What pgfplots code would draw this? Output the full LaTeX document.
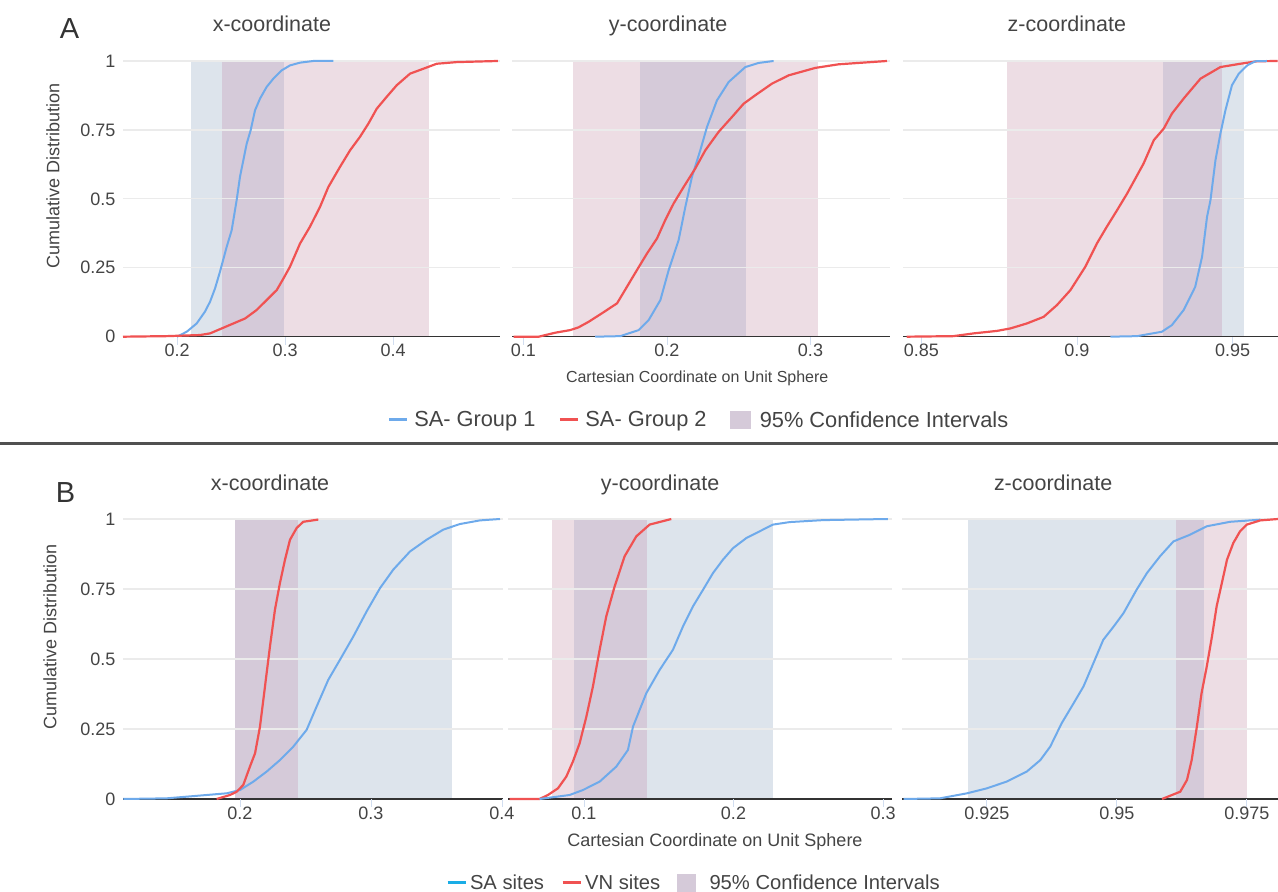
\documentclass[border=0pt]{standalone}
\usepackage{fontspec}
\setmainfont{Liberation Sans}
\usepackage{pgfplots}
\pgfplotsset{compat=1.18}
\definecolor{blueline}{HTML}{6EAAEB}
\definecolor{redline}{HTML}{F05252}
\definecolor{cyanline}{HTML}{1AADE6}
\definecolor{bandblue}{HTML}{DDE4EC}
\definecolor{bandpink}{HTML}{EDDDE4}
\definecolor{bandpurple}{HTML}{D5CAD9}
\definecolor{gridgray}{HTML}{EBEBEB}
\definecolor{basegray}{HTML}{333333}
\definecolor{textgray}{HTML}{444444}
\definecolor{tickblue}{HTML}{D2DEF0}
\definecolor{sepgray}{HTML}{505050}
\pgfplotsset{
  sub/.style={
    scale only axis, anchor=south west, clip=false, set layers,
    ymin=0, ymax=1,
    ytick={0.25,0.5,0.75,1},
    extra y ticks={0},
    extra y tick style={grid style={draw=basegray, line width=1.5pt}, ytick style={draw=none}},
    ymajorgrids,
    grid style={draw=gridgray, line width=1.2pt},
    axis line style={draw=none},
    ytick style={draw=none},
    tick align=inside, major tick length=8pt,
    xtick style={draw=tickblue, line width=0.8pt, yshift=-8pt},
    xtick pos=bottom, ytick pos=left,
    /pgf/number format/assume math mode=true,
    ticklabel style={font=\fontsize{18}{20}\selectfont, text=textgray},
    xticklabel style={yshift=-4pt},
    yticklabel style={xshift=-4pt},
    title style={font=\fontsize{21.5}{24}\selectfont, text=textgray, anchor=base, yshift=-6pt},
    yticklabels={}, extra y tick labels={},
    legend image code/.code={\draw[##1] (0pt,0pt) -- (18pt,0pt);},
  },
  first/.style={
    yticklabels={0.25,0.5,0.75,1}, extra y tick labels={0},
    ylabel={Cumulative Distribution},
    ylabel style={font=\fontsize{18}{20}\selectfont, text=textgray, anchor=center},
  },
  blue/.style={blueline, line width=2pt},
  red/.style={redline, line width=2.2pt},
  band/.style={on layer=axis background, draw=none, fill=#1, forget plot},
}
\begin{document}
\begin{tikzpicture}
% ================= PANEL A =================
\begin{axis}[sub, first, at={(123pt,555.3pt)}, width=377pt, height=275.7pt,
  xmin=0.15, xmax=0.499, xtick={0.2,0.3,0.4}, xticklabels={0.2,0.3,0.4},
  title={x-coordinate}, title style={at={(axis description cs:0.395,1.1063)}},
  ylabel style={at={(axis description cs:-0.186,0.583)}}]
\addplot[band=bandblue] coordinates {(0.213,1) (0.299,1)} \closedcycle;
\addplot[band=bandpink] coordinates {(0.2417,1) (0.433,1)} \closedcycle;
\addplot[band=bandpurple] coordinates {(0.2417,1) (0.299,1)} \closedcycle;
\addplot[blue] coordinates {(0.2,0)(0.209,0.018)(0.2182,0.048)(0.2259,0.091)(0.2306,0.127)(0.2352,0.175)(0.2398,0.236)(0.246,0.326)(0.2506,0.386)(0.2552,0.495)(0.2583,0.580)(0.2645,0.700)(0.2682,0.749)(0.2722,0.821)(0.2769,0.864)(0.283,0.906)(0.2892,0.936)(0.2969,0.966)(0.3046,0.984)(0.3139,0.994)(0.3262,1.0)(0.3448,1.0)};
\addplot[red] coordinates {(0.15,0)(0.1904,0.002)(0.2213,0.006)(0.2306,0.012)(0.2414,0.030)(0.2522,0.048)(0.263,0.066)(0.2738,0.097)(0.283,0.133)(0.2923,0.169)(0.2985,0.211)(0.3046,0.254)(0.3139,0.338)(0.3231,0.399)(0.3324,0.471)(0.3401,0.543)(0.3509,0.616)(0.3602,0.676)(0.3694,0.725)(0.3772,0.773)(0.3849,0.827)(0.3941,0.870)(0.4034,0.912)(0.4157,0.954)(0.4281,0.972)(0.4404,0.990)(0.459,0.996)(0.497,1)};
\node[font=\fontsize{29}{30}\selectfont, text=basegray] at (rel axis cs:-0.142,1.118) {A};
\end{axis}
\begin{axis}[sub, at={(512pt,555.3pt)}, width=378pt, height=275.7pt,
  xmin=0.092, xmax=0.3554, xtick={0.1,0.2,0.3}, xticklabels={0.1,0.2,0.3},
  title={y-coordinate}, title style={at={(axis description cs:0.413,1.1063)}},
  xlabel={Cartesian Coordinate on Unit Sphere},
  xlabel style={font=\fontsize{16}{18}\selectfont, text=textgray, at={(axis description cs:0.49,-0.150)}, anchor=center},
  legend columns=3,
  legend style={at={(0.494,-0.302)}, anchor=center, draw=none, fill=none,
    font=\fontsize{21.8}{24}\selectfont, text=textgray,
    /tikz/every odd column/.append style={column sep=4pt},
    /tikz/every even column/.append style={column sep=21pt}}]
\addlegendimage{blueline, line width=3pt}
\addlegendentry{SA- Group 1}
\addlegendimage{redline, line width=3pt}
\addlegendentry{SA- Group 2}
\addlegendimage{legend image code/.code={\fill[bandpurple] (0pt,-8.5pt) rectangle (20pt,8.5pt); \path[draw=none, fill=none] (0pt,0pt) -- (24pt,0pt);}}
\addlegendentry{95\% Confidence Intervals}
\addplot[band=bandpink] coordinates {(0.1345,1) (0.305,1)} \closedcycle;
\addplot[band=bandpurple] coordinates {(0.1812,1) (0.255,1)} \closedcycle;
\addplot[blue, forget plot] coordinates {(0.150,0)(0.1675,0.002)(0.1733,0.012)(0.1803,0.024)(0.1872,0.060)(0.1954,0.133)(0.2012,0.242)(0.2081,0.350)(0.2128,0.471)(0.2174,0.580)(0.2232,0.676)(0.2279,0.761)(0.2348,0.857)(0.243,0.924)(0.2546,0.978)(0.2639,0.993)(0.2743,1)};
\addplot[red, forget plot] coordinates {(0.0931,0)(0.1106,0)(0.1222,0.0145)(0.1326,0.024)(0.1384,0.034)(0.1454,0.054)(0.1547,0.085)(0.1652,0.121)(0.1721,0.181)(0.1791,0.242)(0.1861,0.302)(0.193,0.356)(0.1988,0.423)(0.2046,0.483)(0.2116,0.543)(0.2197,0.610)(0.2267,0.676)(0.236,0.743)(0.2453,0.797)(0.2534,0.845)(0.2616,0.876)(0.2732,0.918)(0.2848,0.948)(0.3034,0.975)(0.3196,0.988)(0.3533,1)};
\end{axis}
\begin{axis}[sub, at={(903pt,555.3pt)}, width=375pt, height=275.7pt,
  xmin=0.8441, xmax=0.9646, xtick={0.85,0.9,0.95}, xticklabels={0.85,0.9,0.95},
  title={z-coordinate}, title style={at={(axis description cs:0.437,1.1063)}}]
\addplot[band=bandpink] coordinates {(0.8775,1) (0.9466,1)} \closedcycle;
\addplot[band=bandblue] coordinates {(0.9277,1) (0.9537,1)} \closedcycle;
\addplot[band=bandpurple] coordinates {(0.9277,1) (0.9466,1)} \closedcycle;
\addplot[red] coordinates {(0.8453,0)(0.8603,0.002)(0.8668,0.012)(0.8743,0.021)(0.8786,0.030)(0.8839,0.048)(0.8893,0.072)(0.8936,0.115)(0.8979,0.169)(0.9027,0.254)(0.9064,0.338)(0.9096,0.399)(0.9129,0.459)(0.9161,0.519)(0.9182,0.562)(0.9214,0.628)(0.9247,0.713)(0.9279,0.755)(0.9305,0.809)(0.9343,0.864)(0.9397,0.936)(0.9461,0.978)(0.9525,0.990)(0.9579,0.999)(0.9645,1)};
\addplot[blue] coordinates {(0.9107,0)(0.9193,0.002)(0.9273,0.018)(0.9305,0.042)(0.9343,0.097)(0.938,0.181)(0.9402,0.290)(0.9418,0.435)(0.9429,0.495)(0.9445,0.640)(0.9461,0.737)(0.9477,0.821)(0.9498,0.912)(0.952,0.954)(0.9547,0.984)(0.9573,0.999)(0.961,1)};
\end{axis}
% separator
\draw[sepgray, line width=3pt] (0pt,448pt) -- (1278pt,448pt);
% ================= PANEL B =================
\begin{axis}[sub, first, at={(123pt,93pt)}, width=380pt, height=280pt,
  xmin=0.1107, xmax=0.4008, xtick={0.2,0.3,0.4}, xticklabels={0.2,0.3,0.4},
  title={x-coordinate}, title style={at={(axis description cs:0.387,1.101)}},
  ylabel style={at={(axis description cs:-0.192,0.577)}}]
\addplot[band=bandblue] coordinates {(0.1962,1) (0.3618,1)} \closedcycle;
\addplot[band=bandpurple] coordinates {(0.1962,1) (0.2443,1)} \closedcycle;
\addplot[blue] coordinates {(0.1109,0)(0.144,0.0024)(0.1593,0.0083)(0.1746,0.0143)(0.1898,0.0203)(0.2,0.032)(0.2102,0.062)(0.2204,0.098)(0.2305,0.139)(0.2407,0.187)(0.2509,0.247)(0.2585,0.330)(0.2674,0.4255)(0.2763,0.497)(0.2865,0.580)(0.2967,0.670)(0.3069,0.753)(0.317,0.819)(0.3298,0.884)(0.3425,0.926)(0.3552,0.962)(0.3679,0.982)(0.3832,0.995)(0.3985,1)};
\addplot[red] coordinates {(0.1822,0)(0.1924,0.0143)(0.1975,0.026)(0.2025,0.050)(0.2076,0.1156)(0.2115,0.163)(0.2153,0.259)(0.2191,0.402)(0.2229,0.545)(0.2267,0.676)(0.2305,0.771)(0.2344,0.855)(0.2382,0.926)(0.2433,0.968)(0.2483,0.990)(0.2598,0.998)};
\node[font=\fontsize{29}{30}\selectfont, text=basegray] at (rel axis cs:-0.151,1.095) {B};
\end{axis}
\begin{axis}[sub, at={(508pt,93pt)}, width=384pt, height=280pt,
  xmin=0.0492, xmax=0.306, xtick={0.1,0.2,0.3}, xticklabels={0.1,0.2,0.3},
  title={y-coordinate}, title style={at={(axis description cs:0.396,1.101)}},
  xlabel={Cartesian Coordinate on Unit Sphere},
  xlabel style={font=\fontsize{18}{20}\selectfont, text=textgray, at={(axis description cs:0.539,-0.154)}, anchor=center},
  legend columns=3,
  legend style={at={(0.484,-0.298)}, anchor=center, draw=none, fill=none,
    font=\fontsize{20.2}{22}\selectfont, text=textgray,
    /tikz/every odd column/.append style={column sep=1pt},
    /tikz/every even column/.append style={column sep=15pt}}]
\addlegendimage{cyanline, line width=3pt}
\addlegendentry{SA sites}
\addlegendimage{redline, line width=3pt}
\addlegendentry{VN sites}
\addlegendimage{legend image code/.code={\fill[bandpurple] (0pt,-8.5pt) rectangle (18pt,8.5pt); \path[draw=none, fill=none] (0pt,0pt) -- (29pt,0pt);}}
\addlegendentry{95\% Confidence Intervals}
\addplot[band=bandpink] coordinates {(0.0786,1) (0.1421,1)} \closedcycle;
\addplot[band=bandblue] coordinates {(0.0933,1) (0.2264,1)} \closedcycle;
\addplot[band=bandpurple] coordinates {(0.0933,1) (0.1421,1)} \closedcycle;
\addplot[red, forget plot] coordinates {(0.0503,0)(0.0703,0)(0.0759,0.0143)(0.0826,0.038)(0.0882,0.080)(0.0926,0.1335)(0.0971,0.199)(0.1016,0.294)(0.106,0.402)(0.1105,0.533)(0.1149,0.652)(0.1205,0.759)(0.1272,0.867)(0.135,0.938)(0.1439,0.980)(0.1584,1)};
\addplot[blue, forget plot] coordinates {(0.0703,0)(0.0904,0.0143)(0.0993,0.032)(0.1105,0.062)(0.1216,0.1156)(0.1294,0.175)(0.1328,0.2586)(0.1417,0.378)(0.1506,0.461)(0.1595,0.533)(0.1662,0.616)(0.1729,0.688)(0.1796,0.747)(0.1863,0.807)(0.193,0.855)(0.1997,0.896)(0.2086,0.932)(0.2197,0.962)(0.2264,0.980)(0.2376,0.989)(0.2599,0.996)(0.3033,1)};
\end{axis}
\begin{axis}[sub, at={(902pt,93pt)}, width=376pt, height=280pt,
  xmin=0.9087, xmax=0.981, xtick={0.925,0.95,0.975}, xticklabels={0.925,0.95,0.975},
  title={z-coordinate}, title style={at={(axis description cs:0.402,1.101)}}]
\addplot[band=bandblue] coordinates {(0.92135,1) (0.9667,1)} \closedcycle;
\addplot[band=bandpink] coordinates {(0.9613,1) (0.975,1)} \closedcycle;
\addplot[band=bandpurple] coordinates {(0.9613,1) (0.9667,1)} \closedcycle;
\addplot[blue] coordinates {(0.909,0)(0.916,0.0024)(0.9212,0.0203)(0.925,0.038)(0.9288,0.062)(0.9327,0.098)(0.9353,0.139)(0.9372,0.187)(0.9394,0.2706)(0.9417,0.342)(0.9436,0.402)(0.9455,0.485)(0.9474,0.5685)(0.9494,0.616)(0.9513,0.664)(0.9538,0.747)(0.9558,0.807)(0.9583,0.8665)(0.9609,0.920)(0.9641,0.944)(0.9673,0.974)(0.9718,0.990)(0.9776,0.9976)};
\addplot[red] coordinates {(0.9587,0)(0.9622,0.026)(0.9635,0.068)(0.9644,0.139)(0.9654,0.2586)(0.9663,0.378)(0.9673,0.473)(0.9683,0.580)(0.9692,0.688)(0.9702,0.771)(0.9712,0.855)(0.9724,0.914)(0.9737,0.956)(0.975,0.980)(0.9776,0.995)(0.981,1)};
\end{axis}
\pgfresetboundingbox
\useasboundingbox (0pt,0pt) rectangle (1278pt,892pt);
\end{tikzpicture}
\end{document}
